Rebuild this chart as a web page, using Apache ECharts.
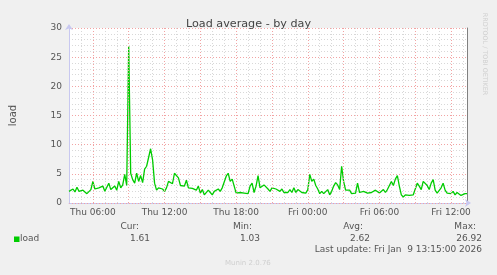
<!DOCTYPE html>
<html>
<head>
<meta charset="utf-8">
<script src="https://cdn.jsdelivr.net/npm/echarts@6/dist/echarts.min.js"></script>
<style>
html,body{margin:0;padding:0;background:#f0f0f0;}
#chart{width:497px;height:275px;}
</style>
</head>
<body>
<div id="chart"></div>
<script>
// Time axis is in hours since Thu 00:00; samples every 10 minutes from Thu 04:00
const startHour = 4;
const stepHour = 1 / 6;
const endHour = 37.3333;

const loadValues = [
  2.0, 1.8, 2.4, 1.9, 2.7, 2.0, 1.8, 2.2, 1.9, 1.6,
  1.3, 2.3, 3.7, 2.4, 2.2, 2.6, 2.3, 2.9, 2.0, 1.8,
  3.4, 2.3, 2.4, 2.9, 2.2, 3.7, 2.6, 3.1, 4.9, 3.0,
  26.92, 5.1, 4.0, 3.4, 5.1, 3.7, 4.7, 3.5, 5.8, 6.3,
  6.2, 9.3, 7.4, 3.4, 2.2, 2.6, 2.3, 2.4, 2.0, 2.6,
  3.7, 3.5, 3.3, 5.1, 5.0, 4.3, 3.0, 2.9, 2.9, 3.9,
  2.6, 2.7, 2.5, 2.7, 2.2, 2.9, 1.7, 2.3, 1.4, 1.4,
  2.2, 1.8, 1.4, 2.0, 1.7, 2.4, 2.0, 2.6, 2.9, 4.6,
  5.1, 3.7, 4.1, 4.3, 1.7, 1.4, 1.8, 1.7, 1.7, 1.8,
  1.6, 2.9, 3.4, 1.8, 2.9, 4.7, 2.6, 2.3, 3.1, 3.0,
  2.4, 2.0, 2.6, 2.9, 2.4, 2.4, 2.0, 2.4, 1.8, 2.0,
  1.8, 2.3, 1.8, 2.6, 1.8, 2.3, 2.0, 1.8, 2.0, 1.7,
  2.3, 4.9, 3.7, 4.1, 3.0, 2.4, 1.6, 2.0, 1.6, 1.7,
  2.3, 1.4, 2.0, 2.9, 3.5, 3.1, 2.3, 6.3, 3.7, 2.2,
  2.4, 2.2, 1.6, 1.9, 1.7, 3.4, 1.8, 1.7, 2.0, 1.8,
  1.7, 2.0, 1.8, 1.7, 2.2, 2.3, 1.7, 2.0, 2.3, 1.8,
  2.3, 2.0, 3.7, 3.0, 4.1, 4.7, 2.9, 1.4, 1.03, 1.4,
  1.3, 1.3, 1.4, 1.4, 1.3, 3.4, 2.9, 2.3, 3.7, 3.4,
  3.0, 2.3, 3.4, 4.0, 2.2, 1.7, 2.0, 2.6, 3.4, 2.2,
  1.7, 2.0, 1.6, 2.0, 1.4, 1.8, 1.7, 1.3, 1.3, 1.6,
  1.61
];

const majorGridHours = [6, 9, 12, 15, 18, 21, 24, 27, 30, 33, 36];
const labelHours = [6, 12, 18, 24, 30, 36];
const labelTexts = ['Thu 06:00', 'Thu 12:00', 'Thu 18:00', 'Fri 00:00', 'Fri 06:00', 'Fri 12:00'];

const statHeaders = ['Cur:', 'Min:', 'Avg:', 'Max:'];
const statValues = ['1.61', '1.03', '2.62', '26.92'];
const seriesName = 'load';
const lastUpdate = 'Last update: Fri Jan  9 13:15:00 2026';
const footer = 'Munin 2.0.76';
const sideText = 'RRDTOOL / TOBI OETIKER';
const titleText = 'Load average - by day';

const FONT = '"DejaVu Sans", "Liberation Sans", sans-serif';
const TXT = '#555';
const MAJOR = '#f2a3a3';
const MINOR = '#d8d8d8';
const AXIS = '#c8c8f0';

const seriesData = loadValues.map((v, i) => [startHour + i * stepHour, v]);

const headerX = [139, 252, 363, 476];
const valueX = [150, 260, 370, 482];

const graphic = [];
statHeaders.forEach((t, k) => {
  graphic.push({type: 'text', x: headerX[k], y: 227, silent: true,
    style: {text: t, align: 'right', verticalAlign: 'middle', font: '9px ' + FONT, fill: TXT}});
  graphic.push({type: 'text', x: valueX[k], y: 238.5, silent: true,
    style: {text: statValues[k], align: 'right', verticalAlign: 'middle', font: '9px ' + FONT, fill: TXT}});
});
graphic.push({type: 'rect', shape: {x: 14, y: 236.5, width: 5.5, height: 5.5}, silent: true, style: {fill: '#00cc00'}});
graphic.push({type: 'text', x: 20, y: 239, silent: true,
  style: {text: seriesName, align: 'left', verticalAlign: 'middle', font: '9px ' + FONT, fill: TXT}});
graphic.push({type: 'text', x: 482, y: 250, silent: true,
  style: {text: lastUpdate, align: 'right', verticalAlign: 'middle', font: '9px ' + FONT, fill: TXT}});
graphic.push({type: 'text', x: 225, y: 263, silent: true,
  style: {text: footer, align: 'left', verticalAlign: 'middle', font: '7px ' + FONT, fill: '#cfcfcf'}});
graphic.push({type: 'text', x: 485, y: 54, rotation: -Math.PI / 2, silent: true,
  style: {text: sideText, align: 'center', verticalAlign: 'middle', font: '6.4px ' + FONT, fill: '#cfcfcf'}});

const chart = echarts.init(document.getElementById('chart'), null, {renderer: 'canvas'});
chart.setOption({
  animation: false,
  backgroundColor: '#f0f0f0',
  title: {
    text: titleText, left: 'center', top: 14,
    textStyle: {fontSize: 11.2, fontWeight: 'normal', color: '#444', fontFamily: FONT}
  },
  grid: {left: 67, top: 28, width: 400, height: 175, show: true, backgroundColor: '#ffffff', borderWidth: 0},
  xAxis: [{
    type: 'value', min: startHour, max: endHour, interval: 1,
    axisLine: {show: true, lineStyle: {color: AXIS}, symbol: ['none', 'arrow'], symbolSize: [6, 6], symbolOffset: [0, 4]},
    axisTick: {show: false},
    splitLine: {show: true, showMaxLine: false, lineStyle: {color: MINOR, type: [1, 2], width: 1}},
    axisLabel: {
      color: TXT, fontSize: 9, fontFamily: FONT, margin: 5, showMinLabel: true, showMaxLabel: true,
      formatter: function (v) {
        const k = labelHours.indexOf(Math.round(v * 1000) / 1000);
        return k >= 0 ? labelTexts[k] : '';
      }
    }
  }],
  yAxis: [{
    type: 'value', min: 0, max: 30, interval: 5, z: 1,
    name: seriesName, nameLocation: 'middle', nameGap: 51, nameRotate: 90,
    nameTextStyle: {color: TXT, fontSize: 10, fontFamily: FONT},
    axisLine: {show: true, lineStyle: {color: AXIS}, symbol: ['none', 'arrow'], symbolSize: [6, 6], symbolOffset: [0, 4]},
    axisTick: {show: false},
    axisLabel: {color: TXT, fontSize: 9, fontFamily: FONT, margin: 7},
    splitLine: {show: true, lineStyle: {color: MAJOR, type: [1, 2], width: 1}}
  }, {
    type: 'value', min: 0, max: 30, interval: 1, z: 0, position: 'right',
    axisLine: {show: true, lineStyle: {color: '#808080', width: 1}},
    axisTick: {show: false},
    axisLabel: {show: false},
    splitLine: {show: true, lineStyle: {color: MINOR, type: [1, 2], width: 1}}
  }],
  series: [{
    type: 'line', name: 'grid', data: [], z: 1, silent: true,
    markLine: {
      silent: true, symbol: ['none', 'none'], label: {show: false}, animation: false,
      lineStyle: {color: MAJOR, type: [1, 2], width: 1},
      emphasis: {disabled: true},
      data: majorGridHours.map(h => ({xAxis: h}))
    }
  }, {
    type: 'line', name: seriesName, data: seriesData, z: 3,
    showSymbol: false, symbol: 'none', smooth: false,
    lineStyle: {color: '#00cc00', width: 1.3}, itemStyle: {color: '#00cc00'}
  }],
  graphic: graphic
});
</script>
</body>
</html>
